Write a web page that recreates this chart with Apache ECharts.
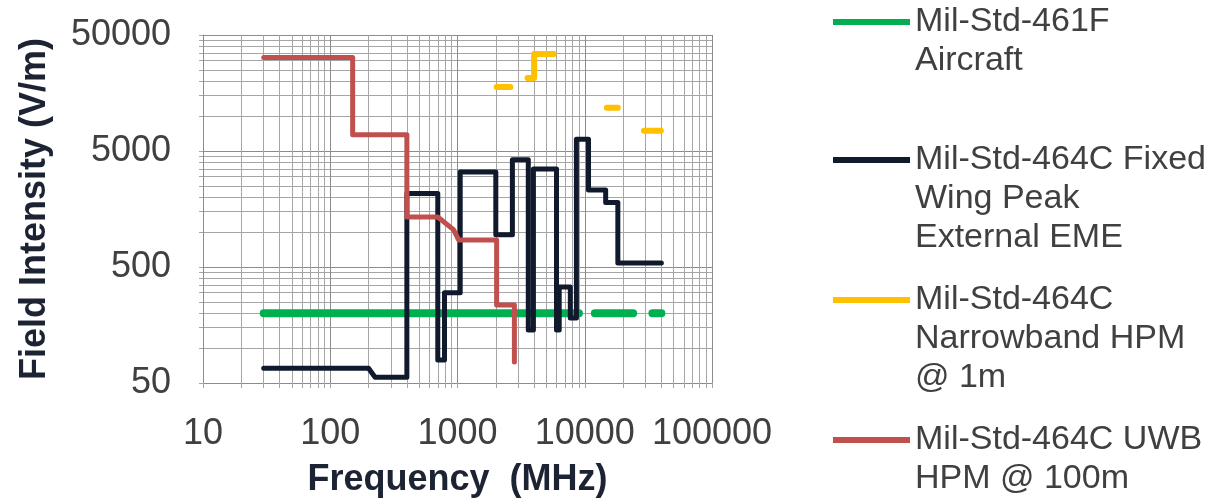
<!DOCTYPE html>
<html>
<head>
<meta charset="utf-8">
<script src="https://cdn.jsdelivr.net/npm/echarts@6/dist/echarts.min.js"></script>
<style>
html,body{margin:0;padding:0;background:#fff;}
#chart{width:1212px;height:504px;}
</style>
</head>
<body>
<div id="chart"></div>
<script>
// ---------- data (frequency in MHz, field intensity in V/m) ----------
const seriesNames = [
  'Mil-Std-461F\nAircraft',
  'Mil-Std-464C Fixed\nWing Peak\nExternal EME',
  'Mil-Std-464C\nNarrowband HPM\n@ 1m',
  'Mil-Std-464C UWB\nHPM @ 100m'
];
const seriesColors = ['#00B050', '#111A2C', '#FFC000', '#C0504D'];

const aircraftFreq  = [30, 9000, 10500, 12000, 24000, 29000, 34000, 40000];
const aircraftField = [200, 200, null, 200, 200, null, 200, 200];

const fixedWingFreq  = [30, 200, 225, 400, 400, 700, 700, 790, 790, 1050, 1050, 2000, 2000, 2700, 2700, 3600, 3600, 3950, 3950, 6000, 6000, 6300, 6300, 7700, 7700, 8600, 8600, 10700, 10700, 14600, 14600, 18200, 18200, 40000];
const fixedWingField = [67, 67, 56, 56, 2150, 2150, 79, 79, 300, 300, 3300, 3300, 950, 950, 4200, 4200, 143, 143, 3500, 3500, 143, 143, 336, 336, 182, 182, 6300, 6300, 2300, 2300, 1800, 1800, 540, 540];

const narrowbandFreq  = [2030, 2600, 3000, 3550, 4000, 4000, 5700, 10000, 14900, 18200, 24000, 29200, 39600];
const narrowbandField = [17800, 17800, null, 21300, 21300, 34300, 34300, null, 11800, 11800, null, 7480, 7480];

const uwbFreq  = [30, 150, 150, 400, 400, 700, 930, 1020, 2030, 2030, 2800, 2800];
const uwbField = [32000, 32000, 6900, 6900, 1350, 1350, 1050, 855, 855, 235, 235, 76];

const xAxisMin = 10, xAxisMax = 100000;
const yAxisMin = 50, yAxisMax = 50000;

// ---------- build ----------
function pairs(fx, fy) {
  return fx.map((f, i) => [f, fy[i] == null ? '-' : fy[i]]);
}
const dataSets = [
  pairs(aircraftFreq, aircraftField),
  pairs(fixedWingFreq, fixedWingField),
  pairs(narrowbandFreq, narrowbandField),
  pairs(uwbFreq, uwbField)
];
const widths = [8, 5, 6, 5];

const FONT = 'Liberation Sans';
const lineH = 39;
const legendIconY = [22, 160, 300, 440];

const legends = seriesNames.map((name, i) => {
  const n = name.split('\n').length;
  return {
    data: [name],
    left: 833,
    top: legendIconY[i] - (2 * n - 1) * lineH / 2,
    padding: 0,
    orient: 'vertical',
    icon: 'rect',
    itemWidth: 77,
    itemHeight: 6,
    selectedMode: false,
    // leading empty lines so the first text line sits level with the icon
    formatter: function (nm) { return '\n'.repeat(n - 1) + nm; },
    textStyle: { fontFamily: FONT, fontSize: 34, color: '#404040', lineHeight: lineH }
  };
});

function niceLabel(v) {
  const p = Math.pow(10, Math.floor(Math.log10(v) + 1e-9));
  return String(Math.round(v / p) * p);
}

const gridColor = '#A6A6A6';

const option = {
  animation: false,
  backgroundColor: '#ffffff',
  legend: legends,
  grid: { left: 203, right: 500, top: 35, bottom: 121, containLabel: false },
  xAxis: {
    type: 'log', logBase: 10, min: xAxisMin, max: xAxisMax,
    name: 'Frequency  (MHz)', nameLocation: 'middle', nameGap: 79,
    nameTextStyle: { fontFamily: FONT, fontSize: 36, fontWeight: 'bold', color: '#1C2333' },
    axisLine: { show: true, lineStyle: { color: '#8C8C8C', width: 1 } },
    axisTick: { show: true, length: 5, lineStyle: { color: gridColor } },
    minorTick: { show: true, splitNumber: 9, length: 5, lineStyle: { color: gridColor } },
    axisLabel: { fontFamily: FONT, fontSize: 36, color: '#404040', margin: 33, formatter: niceLabel },
    splitLine: { show: true, lineStyle: { color: '#8C8C8C', width: 1 } },
    minorSplitLine: { show: true, lineStyle: { color: gridColor, width: 1 } }
  },
  yAxis: {
    type: 'log', logBase: 10, min: yAxisMin, max: yAxisMax, interval: 1,
    name: 'Field Intensity (V/m)', nameLocation: 'middle', nameGap: 150, nameRotate: 90,
    nameTextStyle: { fontFamily: FONT, fontSize: 36, fontWeight: 'bold', color: '#1C2333' },
    axisLine: { show: true, lineStyle: { color: '#8C8C8C', width: 1 } },
    axisTick: { show: true, length: 4, lineStyle: { color: gridColor } },
    minorTick: { show: true, splitNumber: 9, length: 4, lineStyle: { color: gridColor } },
    axisLabel: { fontFamily: FONT, fontSize: 36, color: '#404040', margin: 32, formatter: niceLabel },
    splitLine: { show: true, lineStyle: { color: '#8C8C8C', width: 1 } },
    minorSplitLine: { show: true, lineStyle: { color: gridColor, width: 1 } }
  },
  series: seriesNames.map((name, i) => ({
    name: name,
    type: 'line',
    data: dataSets[i],
    showSymbol: false,
    symbol: 'none',
    connectNulls: false,
    color: seriesColors[i],
    lineStyle: { color: seriesColors[i], width: widths[i], cap: 'round', join: 'round' },
    z: [3, 4, 5, 6][i]
  }))
};

const chart = echarts.init(document.getElementById('chart'), null, { renderer: 'canvas' });
chart.setOption(option);
</script>
</body>
</html>
